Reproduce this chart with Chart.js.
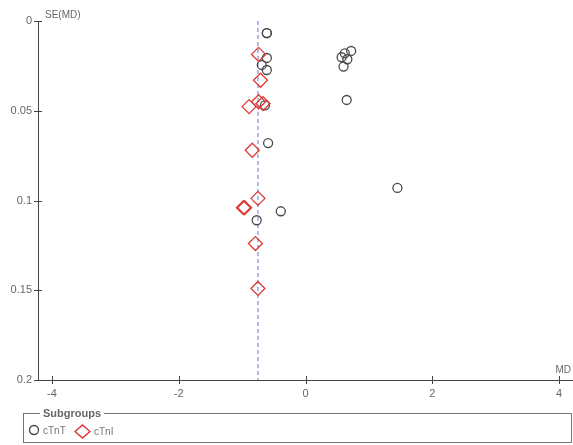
<!DOCTYPE html>
<html>
<head>
<meta charset="utf-8">
<script src="https://cdn.jsdelivr.net/npm/chart.js@4"></script>
<style>
    body { margin: 0; background: #fff; overflow: hidden; }
    #wrap { position: relative; width: 573px; height: 445px; }
    canvas { display: block; }
    #legend {
        position: absolute; left: 23px; top: 407px; width: 547px; height: 34px;
        margin: 0; padding: 0; border: 1px solid #777;
        font-family: "Liberation Sans", Arial, sans-serif; font-size: 10px; color: #777;
    }
    #legend legend { font-weight: bold; color: #666; padding: 0 3px; margin-left: 16px; font-size: 11px; }
    #legend .item { position: absolute; top: 5px; display: flex; align-items: center; }
    #legend svg { margin-right: 3px; }
</style>
</head>
<body>
<div id="wrap">
    <canvas id="funnel" width="573" height="445"></canvas>
    <fieldset id="legend">
        <legend>Subgroups</legend>
        <span class="item" style="left:4px"><svg width="12" height="12"><circle cx="6" cy="6" r="4.5" fill="none" stroke="#444" stroke-width="1.3"/></svg>cTnT</span>
        <span class="item" style="left:50px"><svg width="17" height="15"><path d="M8.5 1 L16 7.5 L8.5 14 L1 7.5 Z" fill="none" stroke="#e03030" stroke-width="1.4"/></svg>cTnI</span>
    </fieldset>
</div>
<script>
// values
const tntMD = [-0.61, -0.61, -0.61, -0.69, -0.61, -0.64, -0.59, 1.45, -0.39, -0.77, 0.72, 0.62, 0.57, 0.66, 0.60, 0.65];
const tntSE = [0.0067, 0.0067, 0.0206, 0.0245, 0.0273, 0.047, 0.068, 0.093, 0.106, 0.111, 0.0167, 0.018, 0.0202, 0.0213, 0.0254, 0.044];
const tniMD = [-0.74, -0.71, -0.89, -0.74, -0.67, -0.84, -0.75, -0.98, -0.96, -0.79, -0.75];
const tniSE = [0.0186, 0.033, 0.0477, 0.045, 0.046, 0.072, 0.0988, 0.104, 0.104, 0.124, 0.149];
const pooledMD = -0.75;
const xTicks = [-4, -2, 0, 2, 4];
const yTicks = [0, 0.05, 0.1, 0.15, 0.2];
const yTickLabels = ['0', '0.05', '0.1', '0.15', '0.2'];

const toPoints = (xs, ys) => xs.map((x, i) => ({ x: x, y: ys[i] }));
const font = { family: '"Liberation Sans", Arial, sans-serif', size: 11 };

// axis ticks cross the axis line and the axis titles sit at the ends
const axisDecor = {
    id: 'axisDecor',
    afterDraw(chart) {
        const ctx = chart.ctx;
        const xs = chart.scales.x, ys = chart.scales.y;
        const a = chart.chartArea;
        ctx.save();
        ctx.strokeStyle = '#444';
        ctx.lineWidth = 1;
        ctx.beginPath();
        yTicks.forEach(v => {
            const py = Math.round(ys.getPixelForValue(v)) + 0.5;
            ctx.moveTo(a.left - 4, py);
            ctx.lineTo(a.left + 4, py);
        });
        xTicks.forEach(v => {
            const px = Math.round(xs.getPixelForValue(v)) + 0.5;
            ctx.moveTo(px, a.bottom - 4);
            ctx.lineTo(px, a.bottom + 4);
        });
        ctx.stroke();
        ctx.fillStyle = '#666';
        ctx.font = '10px "Liberation Sans", Arial, sans-serif';
        ctx.textBaseline = 'middle';
        ctx.textAlign = 'left';
        ctx.fillText('SE(MD)', a.left + 7, a.top - 6);
        ctx.textAlign = 'right';
        ctx.fillText('MD', xs.getPixelForValue(4) + 12, a.bottom - 10);
        ctx.restore();
    }
};

new Chart(document.getElementById('funnel').getContext('2d'), {
    type: 'scatter',
    data: {
        datasets: [{
            type: 'line',
            label: 'pooled',
            data: [{ x: pooledMD, y: 0 }, { x: pooledMD, y: 0.2 }],
            borderColor: '#95a6e0',
            borderWidth: 1.5,
            borderDash: [4, 3],
            pointRadius: 0,
            order: 3
        }, {
            label: 'cTnT',
            data: toPoints(tntMD, tntSE),
            pointStyle: 'circle',
            pointRadius: 4.5,
            borderColor: '#4a4a4a',
            borderWidth: 1.3,
            backgroundColor: 'rgba(0,0,0,0)',
            order: 2
        }, {
            label: 'cTnI',
            data: toPoints(tniMD, tniSE),
            pointStyle: 'rectRot',
            pointRadius: 7,
            borderColor: '#e03838',
            borderWidth: 1.3,
            backgroundColor: 'rgba(0,0,0,0)',
            order: 1
        }]
    },
    options: {
        responsive: false,
        animation: false,
        devicePixelRatio: 1,
        layout: { autoPadding: false, padding: { top: 21, right: 0, left: 0, bottom: 0 } },
        plugins: { legend: { display: false }, tooltip: { enabled: false } },
        scales: {
            x: {
                type: 'linear',
                min: -4.22,
                max: 4.22,
                afterBuildTicks: s => { s.ticks = xTicks.map(v => ({ value: v })); },
                afterFit: s => { s.height = 65; s.paddingLeft = 0; s.paddingRight = 0; },
                grid: { display: false, drawTicks: false },
                border: { display: true, color: '#444', width: 1 },
                ticks: { color: '#666', font: font, padding: 7, maxRotation: 0 }
            },
            y: {
                type: 'linear',
                reverse: true,
                min: 0,
                max: 0.2,
                afterBuildTicks: s => { s.ticks = yTicks.map(v => ({ value: v })); },
                afterFit: s => { s.width = 38; s.paddingTop = 0; s.paddingBottom = 0; },
                grid: { display: false, drawTicks: false },
                border: { display: true, color: '#444', width: 1 },
                ticks: {
                    color: '#666', font: font, padding: 6,
                    callback: (v, i) => yTickLabels[i]
                }
            }
        }
    },
    plugins: [axisDecor]
});
</script>
</body>
</html>
